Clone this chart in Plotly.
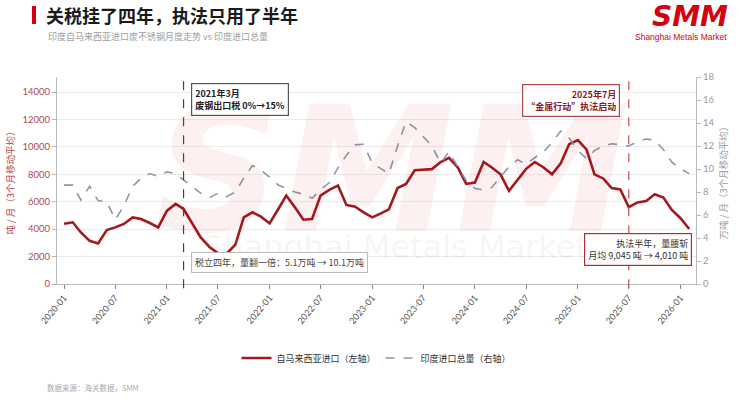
import plotly.graph_objects as go
import pandas as pd

months = pd.date_range("2020-01-01", periods=74, freq="MS").strftime("%Y-%m-%d").tolist()

malaysia_t = [4400, 4500, 3760, 3150, 2950, 3940, 4130, 4380, 4860, 4740,
              4450, 4130, 5350, 5840, 5470, 4380, 3400, 2700, 2250, 2220,
              2860, 4860, 5230, 4910, 4420, 5470, 6450, 5590, 4690, 4740,
              6450, 6870, 7180, 5770, 5640, 5230, 4860, 5150, 5450, 7000,
              7300, 8300, 8320, 8380, 8900, 9200, 8500, 7300, 7400, 8900,
              8500, 8000, 6800, 7600, 8400, 8900, 8500, 8000, 8800, 10200,
              10500, 9800, 8000, 7700, 7000, 6900, 5600, 5950, 6050, 6550,
              6300, 5400, 4800, 4010]

india_total_10kt = [8.6, 8.6, 7.3, 8.5, 7.25, 7.15, 5.6, 6.8, 8.5, 9.2,
                    9.6, 9.35, 9.75, 9.6, 9.05, 8.5, 7.9, 7.5, 7.9, 7.6,
                    8.0, 9.2, 10.3, 9.9, 9.3, 8.6, 8.3, 8.0, 7.8, 7.45,
                    8.2, 8.8, 10.1, 11.2, 12.1, 12.15, 10.5, 10.0, 9.6, 12.0,
                    14.1, 13.6, 12.8, 12.0, 10.5, 11.5, 10.2, 9.0, 8.3, 8.2,
                    8.4, 9.3, 10.2, 10.8, 10.4, 11.0, 11.5, 12.3, 13.3, 12.7,
                    11.6, 10.9, 11.6, 12.0, 12.2, 12.1, 12.0, 12.4, 12.6, 12.5,
                    11.7, 10.6, 10.0, 9.6]

tick_vals = pd.date_range("2020-01-01", "2026-01-01", freq="6MS").strftime("%Y-%m-%d").tolist()
tick_text = pd.date_range("2020-01-01", "2026-01-01", freq="6MS").strftime("%Y-%m").tolist()

left_ticks = [0, 2000, 4000, 6000, 8000, 10000, 12000, 14000]
right_ticks = [0, 2, 4, 6, 8, 10, 12, 14, 16, 18]

event1 = "2021-03-01"
event2 = "2025-07-01"

FONT = "Lato, 'Noto Sans CJK SC', sans-serif"
CJK = "'Noto Sans CJK SC', sans-serif"
RED = "#a3191e"
GREY = "#8d97a8"
AXRED = "#b5474b"

W, H = 752, 406
L, R, T, B = 57, 696, 77, 284

def px(x):
    return (x - L) / (R - L)

def py(y):
    return (B - y) / (B - T)

fig = go.Figure()
fig.add_trace(go.Scatter(x=months, y=malaysia_t, name="自马来西亚进口（左轴）",
                         mode="lines", line=dict(color=RED, width=2.6), yaxis="y"))
fig.add_trace(go.Scatter(x=months, y=india_total_10kt, name="印度进口总量（右轴）",
                         mode="lines", line=dict(color=GREY, width=1.6, dash="dash"), yaxis="y2"))

shapes = [
    dict(type="rect", xref="paper", yref="paper", x0=px(32), x1=px(36), y0=py(6), y1=py(24),
         fillcolor="#d7000f", line=dict(width=0)),
    dict(type="line", xref="x", yref="paper", x0=event1, x1=event1, y0=-0.02, y1=1,
         line=dict(color="#444444", width=1.2, dash="dash")),
    dict(type="line", xref="x", yref="paper", x0=event2, x1=event2, y0=-0.02, y1=1,
         line=dict(color="#c8504f", width=1.2, dash="dash")),
]

annotations = [
    # watermark
    dict(xref="paper", yref="paper", x=px(392), y=py(170), text="<b><i>SMM</i></b>",
         showarrow=False, font=dict(family="DejaVu Sans", size=175, color="rgba(215,0,15,0.06)")),
    dict(xref="paper", yref="paper", x=px(395), y=py(268), text="Shanghai Metals Market",
         showarrow=False, font=dict(family="DejaVu Sans", size=32, color="rgba(150,150,150,0.09)")),
    # title
    dict(xref="paper", yref="paper", x=px(44), y=py(15), xanchor="left", yanchor="middle",
         text="<b>关税挂了四年，执法只用了半年</b>", showarrow=False,
         font=dict(family=CJK, size=18, color="#1a1a1a")),
    dict(xref="paper", yref="paper", x=px(46), y=py(36), xanchor="left", yanchor="middle",
         text="印度自马来西亚进口废不锈钢月度走势 vs 印度进口总量", showarrow=False,
         font=dict(family=CJK, size=9, color="#a0a0a0")),
    # logo
    dict(xref="paper", yref="paper", x=px(730), y=py(16), xanchor="right", yanchor="middle",
         text="<b><i>SMM</i></b>", showarrow=False,
         font=dict(family="DejaVu Sans", size=28, color="#d7000f")),
    dict(xref="paper", yref="paper", x=px(729), y=py(37), xanchor="right", yanchor="middle",
         text="Shanghai Metals Market", showarrow=False,
         font=dict(family="Liberation Sans", size=8.5, color="#d7000f")),
    # event boxes
    dict(xref="x", yref="paper", x=event1, xshift=7, y=py(83), xanchor="left", yanchor="top",
         text="<b>2021年3月<br>废钢出口税 0%→15%</b>", align="left", showarrow=False,
         font=dict(family=CJK, size=9, color="#222222"), bgcolor="white",
         bordercolor="#555555", borderwidth=1.2, borderpad=3),
    dict(xref="x", yref="paper", x=event2, xshift=-9, y=py(84), xanchor="right", yanchor="top",
         text="<b>2025年7月<br>“金属行动”执法启动</b>", align="right", showarrow=False,
         font=dict(family=CJK, size=9, color="#8b1a1e"), bgcolor="white",
         bordercolor="#b0474b", borderwidth=1.2, borderpad=3),
    dict(xref="x", yref="paper", x=event1, xshift=7, y=py(262), xanchor="left", yanchor="middle",
         text="税立四年，量翻一倍：5.1万吨 → 10.1万吨", align="left", showarrow=False,
         font=dict(family=CJK, size=9, color="#444444"), bgcolor="white",
         bordercolor="#bbbbbb", borderwidth=1, borderpad=3),
    dict(xref="paper", yref="paper", x=px(692), y=py(249), xanchor="right", yanchor="middle",
         text="执法半年，量腰斩<br>月均 9,045 吨 → 4,010 吨", align="right", showarrow=False,
         font=dict(family=CJK, size=9, color="#333333"), bgcolor="white",
         bordercolor="#a83236", borderwidth=1.2, borderpad=3),
    # source
    dict(xref="paper", yref="paper", x=px(45), y=py(387), xanchor="left", yanchor="middle",
         text="数据来源：海关数据，SMM", showarrow=False,
         font=dict(family=CJK, size=7.5, color="#aaaaaa")),
]

fig.update_layout(
    width=W, height=H,
    margin=dict(l=L, r=W - R, t=T, b=H - B, autoexpand=False),
    paper_bgcolor="white", plot_bgcolor="white",
    font=dict(family=FONT, size=9, color="#555555"),
    showlegend=True,
    legend=dict(orientation="h", x=0.5, xanchor="center", y=py(358), yanchor="middle",
                font=dict(family=CJK, size=9, color="#333333"), itemwidth=30,
                tracegroupgap=0),
    xaxis=dict(type="date", range=["2019-12-07", "2026-02-25"], automargin=False,
               tickvals=tick_vals, ticktext=tick_text, tickangle=-50,
               showgrid=False, showline=True, linecolor="#bbbbbb", linewidth=1.2,
               ticks="outside", ticklen=4, tickcolor="#888888",
               tickfont=dict(size=9, color="#555555"), zeroline=False),
    yaxis=dict(range=[0, 15100], tickvals=left_ticks, tickformat="d", showgrid=True,
               automargin=False,
               gridcolor="#ececec", gridwidth=1, showline=True, linecolor="#bbbbbb", linewidth=1.2,
               ticks="outside", ticklen=4, tickcolor="#bbbbbb", zeroline=False,
               tickfont=dict(size=9.5, color=AXRED),
               title=dict(text="吨 / 月（3个月移动平均）", font=dict(family=CJK, size=9.5, color=AXRED),
                          standoff=6)),
    yaxis2=dict(range=[0, 18], tickvals=right_ticks, overlaying="y", side="right",
                automargin=False,
                showgrid=False, showline=True, linecolor="#bbbbbb", linewidth=1.2,
                ticks="outside", ticklen=4, tickcolor="#bbbbbb", zeroline=False,
                tickfont=dict(size=9.5, color="#999999"),
                title=dict(text="万吨 / 月（3个月移动平均）", font=dict(family=CJK, size=9.5, color="#999999"),
                           standoff=6)),
    shapes=shapes,
    annotations=annotations,
)

fig.write_html("out.html", config={"displayModeBar": False},
               post_script="document.body.style.margin='0';document.body.style.overflow='hidden';")
